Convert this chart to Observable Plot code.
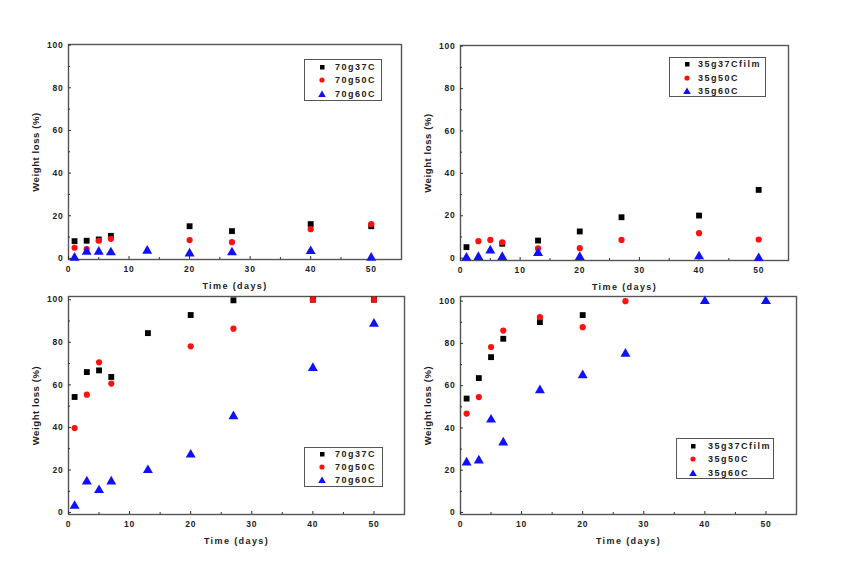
<!DOCTYPE html>
<html><head><meta charset="utf-8">
<script src="https://cdn.jsdelivr.net/npm/d3@7"></script>
<script src="https://cdn.jsdelivr.net/npm/@observablehq/plot@0.6"></script>
<style>
body{margin:0;background:#fff}
#c{position:relative;width:843px;height:574px;overflow:hidden;background:#fff;font-family:"Liberation Sans",Arial,sans-serif}
.p{position:absolute}
.lg{position:absolute;border:1.3px solid #555;background:#fff;box-sizing:border-box}
.lg span{position:absolute;font:bold 9px "Liberation Sans",Arial,sans-serif;letter-spacing:1.5px;color:#222;line-height:10px}
.lg svg{position:absolute;overflow:visible}
g[aria-label="x-axis label"] text{font-size:9px;letter-spacing:1.4px}
g[aria-label="y-axis label"] text{font-size:9.5px;letter-spacing:0.6px}
</style></head><body><div id="c"></div>
<script>
// ---- data ----
const days = [1, 3, 5, 7, 13, 20, 27, 40, 50];
// top-left (70 g, early)
const t70_37C = [8.1, 8.3, 8.9, 10.6, null, 15.1, 12.8, 16.1, 15.1];
const t70_50C = [5.0, 4.4, 8.3, 9.2, null, 8.6, 7.6, 13.7, 16.1];
const t70_60C = [0.3, 3.1, 3.1, 2.8, 3.6, 2.3, 2.8, 3.4, 0.3];
// top-right (35 g, early)
const t35_37C = [5.2, null, null, 6.8, 8.3, 12.6, 19.3, 20.1, 32.2];
const t35_50C = [null, 8.0, 8.6, 7.5, 4.6, 4.7, 8.6, 11.8, 8.8];
const t35_60C = [0.2, 0.5, 3.6, 0.5, 2.4, 0.5, null, 0.8, 0.0];
// bottom-left (70 g)
const b70_37C = [54.3, 66.0, 66.8, 63.7, 84.3, 92.8, 99.7, 100, 100];
const b70_50C = [39.7, 55.4, 70.6, 60.6, null, 78.1, 86.4, 100, 100];
const b70_60C = [3.1, 14.6, 10.5, 14.6, 19.9, 27.2, 45.2, 67.9, 88.7];
// bottom-right (35 g)
const b35_37C = [53.9, 63.6, 73.5, 82.2, 90.1, 93.4, null, null, null];
const b35_50C = [46.8, 54.6, 78.3, 86.1, 92.4, 87.7, 100, null, null];
const b35_60C = [23.6, 24.6, 43.9, 33.1, 57.8, 64.9, 75.1, 100, 100];

const names70 = ["70g37C", "70g50C", "70g60C"];
const names35 = ["35g37Cfilm", "35g50C", "35g60C"];

const xMajor = [0, 10, 20, 30, 40, 50];
const xMinor = [5, 15, 25, 35, 45];
const yMajor = [0, 20, 40, 60, 80, 100];
const yMinor = [10, 30, 50, 70, 90];

const colors = ["#000000", "#ff1010", "#1010ff"];
const symbols = ["square", "circle", "triangle"];
const radii = [3.3, 3.1, 3.7];

function rows(vals) {
  return days.map((d, i) => ({x: d, y: vals[i]})).filter(r => r.y != null);
}

const container = document.getElementById("c");

function panel(cfg) {
  const {left, top, width, height, ml, mt, mr, mb, ydom, series, names, legend} = cfg;
  const fh = height - mt - mb, fw = width - ml - mr;
  const marks = [
    Plot.frame({stroke: "#555", strokeWidth: 1.4}),
    Plot.tickX(xMajor, {x: d => d, insetTop: fh - 3, stroke: "#333"}),
    Plot.tickX(xMinor, {x: d => d, insetTop: fh - 2, stroke: "#333"}),
    Plot.tickY(yMajor, {y: d => d, insetRight: fw - 3, stroke: "#333"}),
    Plot.tickY(yMinor, {y: d => d, insetRight: fw - 2, stroke: "#333"}),
    Plot.axisX({ticks: xMajor, tickSize: 0, tickPadding: 6, label: "Time (days)", labelAnchor: "center", labelArrow: "none", labelOffset: 29, fill: "#222"}),
    Plot.axisY({ticks: yMajor, tickSize: 0, tickPadding: 5, label: "Weight loss (%)", labelAnchor: "center", labelArrow: "none", labelOffset: 36, fill: "#222"})
  ];
  series.forEach((s, i) => {
    marks.push(Plot.dot(rows(s), {x: "x", y: "y", symbol: () => symbols[i], fill: colors[i], stroke: "none", r: radii[i]}));
  });
  const svg = Plot.plot({
    width, height,
    marginLeft: ml, marginTop: mt, marginRight: mr, marginBottom: mb,
    x: {domain: [0, 55]},
    y: {domain: ydom},
    symbol: {type: "identity"},
    style: {fontFamily: "'Liberation Sans', Arial, sans-serif", fontSize: "8.5px", fontWeight: "bold", letterSpacing: "0.8px", background: "transparent", overflow: "visible"},
    marks
  });
  svg.classList.add("p");
  svg.style.left = left + "px";
  svg.style.top = top + "px";
  container.appendChild(svg);

  // legend
  const lg = document.createElement("div");
  lg.className = "lg";
  lg.style.left = legend.x + "px";
  lg.style.top = legend.y + "px";
  lg.style.width = legend.w + "px";
  lg.style.height = legend.h + "px";
  names.forEach((n, i) => {
    const cy = legend.row0 + i * legend.dy;
    const ns = "http://www.w3.org/2000/svg";
    const sv = document.createElementNS(ns, "svg");
    sv.setAttribute("width", 10); sv.setAttribute("height", 10);
    sv.style.left = (legend.mx - 5) + "px";
    sv.style.top = (cy - 5) + "px";
    let shape;
    if (i === 0) { shape = document.createElementNS(ns, "rect"); shape.setAttribute("x", 3); shape.setAttribute("y", 3); shape.setAttribute("width", 4.5); shape.setAttribute("height", 4.5); }
    else if (i === 1) { shape = document.createElementNS(ns, "circle"); shape.setAttribute("cx", 5); shape.setAttribute("cy", 5); shape.setAttribute("r", 2.6); }
    else { shape = document.createElementNS(ns, "path"); shape.setAttribute("d", "M5,1.5L8.8,8L1.2,8Z"); }
    shape.setAttribute("fill", colors[i]);
    sv.appendChild(shape);
    lg.appendChild(sv);
    const sp = document.createElement("span");
    sp.textContent = n;
    sp.style.left = legend.tx + "px";
    sp.style.top = (cy - 5) + "px";
    lg.appendChild(sp);
  });
  container.appendChild(lg);
}

panel({left: 0, top: 0, width: 420, height: 290, ml: 68, mt: 44, mr: 19, mb: 31, ydom: [-0.5, 100.3],
  series: [t70_37C, t70_50C, t70_60C], names: names70,
  legend: {x: 304, y: 59, w: 78, h: 42, row0: 7, dy: 13.3, mx: 17, tx: 30}});
panel({left: 420, top: 0, width: 423, height: 290, ml: 40, mt: 45, mr: 55, mb: 30, ydom: [-1.1, 100.3],
  series: [t35_37C, t35_50C, t35_60C], names: names35,
  legend: {x: 669, y: 57, w: 97, h: 40, row0: 6, dy: 13.5, mx: 16.5, tx: 28}});
panel({left: 0, top: 280, width: 420, height: 294, ml: 68, mt: 16, mr: 16, mb: 60, ydom: [-0.9, 101.5],
  series: [b70_37C, b70_50C, b70_60C], names: names70,
  legend: {x: 304, y: 447, w: 79, h: 40, row0: 6, dy: 13.2, mx: 17, tx: 30}});
panel({left: 420, top: 280, width: 423, height: 294, ml: 40, mt: 16, mr: 47, mb: 60, ydom: [-0.95, 102.2],
  series: [b35_37C, b35_50C, b35_60C], names: names35,
  legend: {x: 676, y: 438, w: 98, h: 41, row0: 6.5, dy: 13.7, mx: 15.5, tx: 31}});
</script>
</body></html>
